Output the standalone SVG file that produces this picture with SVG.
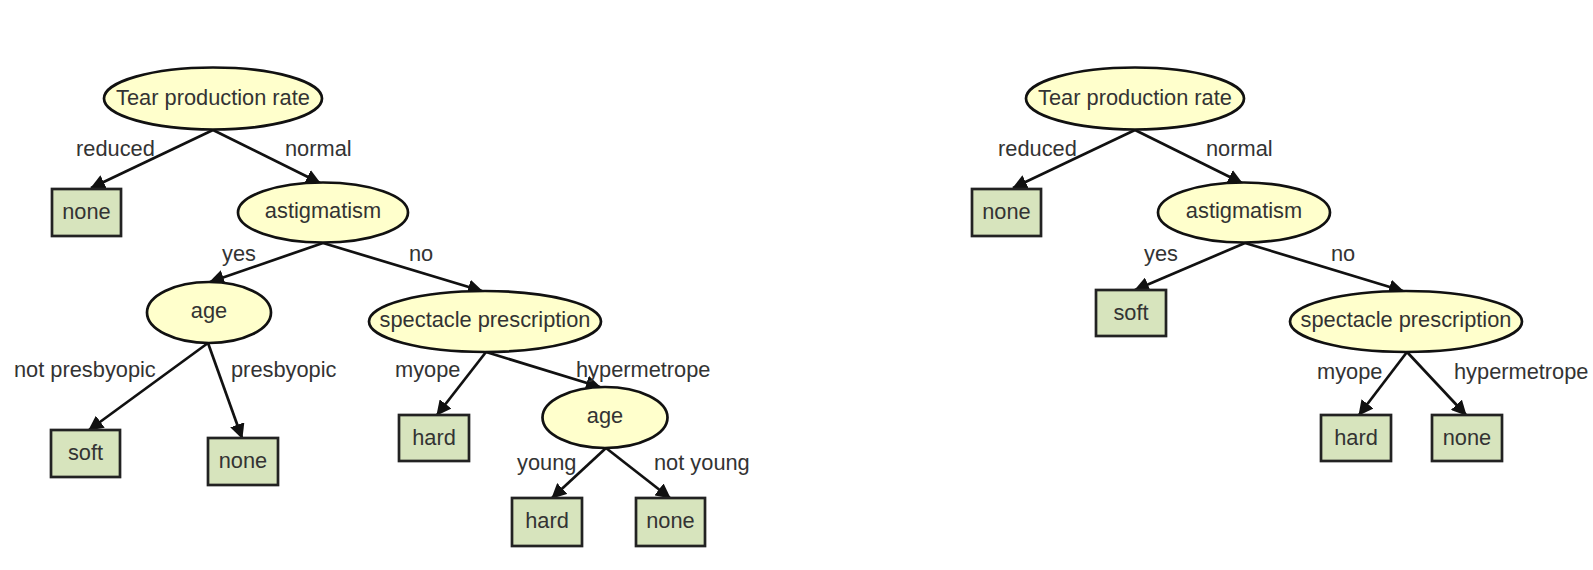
<svg xmlns="http://www.w3.org/2000/svg" width="1593" height="570" viewBox="0 0 1593 570">
<style>
.e{fill:#FFFFCC;stroke:#111;stroke-width:2.7}
.b{fill:#D7E4BD;stroke:#222;stroke-width:2.7}
text{font-family:"Liberation Sans",Arial,sans-serif;font-size:21.8px;fill:#333}
.c{text-anchor:middle}
.l{stroke:#111;stroke-width:2.7;fill:none;marker-end:url(#ah)}
</style>
<defs>
<marker id="ah" markerUnits="userSpaceOnUse" markerWidth="15" markerHeight="15" refX="14" refY="7.5" orient="auto">
<path d="M0,0 L15,7.5 L0,15 z" fill="#111"/>
</marker>
</defs>
<rect width="1593" height="570" fill="#fff"/>
<g id="connectors">
<line class="l" x1="213" y1="130" x2="91" y2="188"/>
<line class="l" x1="213" y1="130" x2="320" y2="183"/>
<line class="l" x1="323" y1="243" x2="210" y2="282"/>
<line class="l" x1="323" y1="243" x2="482" y2="291"/>
<line class="l" x1="208" y1="343" x2="89" y2="430"/>
<line class="l" x1="208" y1="343" x2="242" y2="438"/>
<line class="l" x1="486" y1="352" x2="437" y2="415"/>
<line class="l" x1="486" y1="352" x2="600" y2="387"/>
<line class="l" x1="606" y1="448" x2="552" y2="498"/>
<line class="l" x1="606" y1="448" x2="670" y2="498"/>
<line class="l" x1="1135" y1="130" x2="1013" y2="188"/>
<line class="l" x1="1135" y1="130" x2="1242" y2="183"/>
<line class="l" x1="1245" y1="243" x2="1135" y2="290"/>
<line class="l" x1="1245" y1="243" x2="1403" y2="291"/>
<line class="l" x1="1407" y1="352" x2="1359" y2="415"/>
<line class="l" x1="1407" y1="352" x2="1466" y2="415"/>
<text x="76" y="156">reduced</text>
<text x="285" y="156">normal</text>
<text x="222" y="261">yes</text>
<text x="409" y="261">no</text>
<text x="14" y="377">not presbyopic</text>
<text x="231" y="377">presbyopic</text>
<text x="395" y="377">myope</text>
<text x="576" y="377">hypermetrope</text>
<text x="517" y="470">young</text>
<text x="654" y="470">not young</text>
<text x="998" y="156">reduced</text>
<text x="1206" y="156">normal</text>
<text x="1144" y="261">yes</text>
<text x="1331" y="261">no</text>
<text x="1317" y="379">myope</text>
<text x="1454" y="379">hypermetrope</text>
</g>
<g id="L_tear"><ellipse class="e" cx="213" cy="98.5" rx="109" ry="31"/><text class="c" x="213" y="105">Tear production rate</text></g>
<g id="L_none1"><rect class="b" x="52" y="189" width="69" height="47"/><text class="c" x="86.5" y="219">none</text></g>
<g id="L_astig"><ellipse class="e" cx="323" cy="212.5" rx="85" ry="30"/><text class="c" x="323" y="218">astigmatism</text></g>
<g id="L_age1"><ellipse class="e" cx="209" cy="312.5" rx="62" ry="30.5"/><text class="c" x="209" y="318">age</text></g>
<g id="L_spec"><ellipse class="e" cx="485" cy="321.5" rx="116" ry="30.5"/><text class="c" x="485" y="327">spectacle prescription</text></g>
<g id="L_soft"><rect class="b" x="51" y="430" width="69" height="47"/><text class="c" x="85.5" y="460">soft</text></g>
<g id="L_none2"><rect class="b" x="208" y="438" width="70" height="47"/><text class="c" x="243" y="468">none</text></g>
<g id="L_hard1"><rect class="b" x="399" y="415" width="70" height="46"/><text class="c" x="434" y="445">hard</text></g>
<g id="L_age2"><ellipse class="e" cx="605" cy="417.5" rx="62.5" ry="30.5"/><text class="c" x="605" y="423">age</text></g>
<g id="L_hard2"><rect class="b" x="512" y="498" width="70" height="48"/><text class="c" x="547" y="528">hard</text></g>
<g id="L_none3"><rect class="b" x="636" y="498" width="69" height="48"/><text class="c" x="670.5" y="528">none</text></g>
<g id="R_tear"><ellipse class="e" cx="1135" cy="98.5" rx="109" ry="31"/><text class="c" x="1135" y="105">Tear production rate</text></g>
<g id="R_none1"><rect class="b" x="972" y="189" width="69" height="47"/><text class="c" x="1006.5" y="219">none</text></g>
<g id="R_astig"><ellipse class="e" cx="1244" cy="212.5" rx="86" ry="30"/><text class="c" x="1244" y="218">astigmatism</text></g>
<g id="R_soft"><rect class="b" x="1096" y="290" width="70" height="46"/><text class="c" x="1131" y="320">soft</text></g>
<g id="R_spec"><ellipse class="e" cx="1406" cy="321.5" rx="116" ry="30.5"/><text class="c" x="1406" y="327">spectacle prescription</text></g>
<g id="R_hard"><rect class="b" x="1321" y="415" width="70" height="46"/><text class="c" x="1356" y="445">hard</text></g>
<g id="R_none2"><rect class="b" x="1432" y="415" width="70" height="46"/><text class="c" x="1467" y="445">none</text></g>
</svg>
